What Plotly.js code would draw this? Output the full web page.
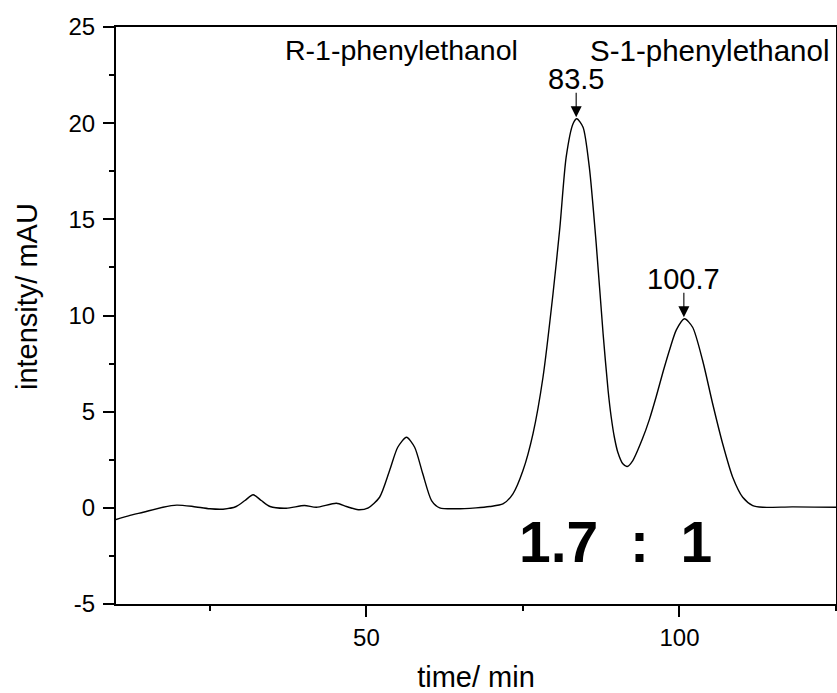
<!DOCTYPE html>
<html>
<head>
<meta charset="utf-8">
<script src="https://cdn.plot.ly/plotly-3.0.1.min.js"></script>
<style>
  html, body { margin: 0; padding: 0; background: #fff; }
  #chart { width: 837px; height: 693px; }
</style>
</head>
<body>
<div id="chart"></div>
<script>
// Chromatogram trace (time in min, intensity in mAU)
const time = [10, 12, 14.35, 17.5, 19.7, 22.3, 25, 27.1, 29.2, 30.6, 31.9, 33.2, 34.6, 37.2, 40.1, 42, 45.2, 46.8, 48.7, 50.3,
  52.1, 53.7, 55, 56.4, 57.7, 59, 60.4, 61.7, 64.4, 67.5, 69.7, 71.8, 73.4, 75, 76.6, 78.2, 79.8, 80.9, 81.9, 83,
  83.6, 84.6, 85.6, 86.7, 87.8, 88.6, 89.1, 89.6, 90.15, 90.95, 91.65, 92.55, 94.1, 95.2, 96.3, 97.4, 98.5, 99.5, 100.8, 102.1,
  103.7, 105.3, 106.9, 108.5, 110.1, 111.7, 113.3, 118, 125];
const intensity = [-0.61, -0.42, -0.23, 0.03, 0.14, 0.07, -0.05, -0.07, 0.07, 0.38, 0.68, 0.38, 0.07, -0.02, 0.12, 0.03, 0.24, 0.07, -0.1, 0,
  0.55, 1.94, 3.15, 3.67, 3.15, 1.77, 0.38, 0, -0.05, 0, 0.07, 0.2, 0.73, 1.94, 3.85, 6.79, 11.13, 14.59, 18.23, 19.97,
  20.23, 19.79, 17.71, 13.73, 9.05, 6.1, 4.71, 3.67, 2.89, 2.29, 2.15, 2.46, 3.6, 4.6, 5.8, 7.1, 8.3, 9.25, 9.83, 9.39,
  7.66, 5.41, 3.33, 1.59, 0.55, 0.12, 0.03, 0.05, 0.03];

// Labelled peaks
const peakTimes = [83.5, 100.7];
const peakHeights = [20.23, 9.83];
const peakNames = ['R-1-phenylethanol', 'S-1-phenylethanol'];
const ratioText = '1.7  :  1';

// Tick labels
const xTickVals = [50, 100];
const xTickText = ['50', '100'];
const yTickVals = [-5, 0, 5, 10, 15, 20, 25];
const yTickText = ['-5', '0', '5', '10', '15', '20', '25'];

const FONT = 'Liberation Sans, Arial, Helvetica, sans-serif';

const trace = {
  x: time,
  y: intensity,
  type: 'scatter',
  mode: 'lines',
  line: { color: '#000', width: 1.4, shape: 'spline', smoothing: 0.7 },
  hoverinfo: 'x+y'
};

const annotations = [
  { xref: 'paper', yref: 'paper', x: 0.3968, y: 0.9598, text: peakNames[0], showarrow: false,
    xanchor: 'center', yanchor: 'middle', font: { family: FONT, size: 28.5, color: '#000' } },
  { xref: 'paper', yref: 'paper', x: 0.8246, y: 0.9598, text: peakNames[1], showarrow: false,
    xanchor: 'center', yanchor: 'middle', font: { family: FONT, size: 29.5, color: '#000' } },
  { xref: 'paper', yref: 'paper', x: 0.694, y: 0.107, text: '<b>' + ratioText + '</b>', showarrow: false,
    xanchor: 'center', yanchor: 'middle', font: { family: FONT, size: 57, color: '#000' } },
  { xref: 'paper', yref: 'paper', x: -0.1236, y: 0.532, text: 'intensity/ mAU', showarrow: false,
    textangle: -90, xanchor: 'center', yanchor: 'middle', font: { family: FONT, size: 29, color: '#000' } }
];
peakTimes.forEach((t, i) => {
  // arrow only
  annotations.push({
    xref: 'x', yref: 'y', x: t, y: peakHeights[i], text: ' ',
    showarrow: true, arrowhead: 2, arrowsize: 2, arrowwidth: 1.1, arrowcolor: '#000',
    ax: 0, ay: -27, standoff: 1.5, borderpad: 0,
    font: { family: FONT, size: 1, color: '#000' }
  });
  // value label above the arrow
  annotations.push({
    xref: 'x', yref: 'y', x: t, y: peakHeights[i], text: t.toFixed(1),
    showarrow: false, xanchor: 'center', yanchor: 'middle', yshift: 39.5,
    font: { family: FONT, size: 29, color: '#000' }
  });
});

const axisCommon = {
  showline: true, linecolor: '#000', linewidth: 2, mirror: true,
  showgrid: false, zeroline: false,
  ticks: 'outside', ticklen: 11, tickwidth: 2, tickcolor: '#000',
  tickfont: { family: FONT, size: 24, color: '#000' },
  tickmode: 'array'
};

const layout = {
  width: 837, height: 693,
  margin: { l: 116, r: 1, t: 27, b: 89, pad: 0 },
  paper_bgcolor: '#fff', plot_bgcolor: '#fff',
  showlegend: false,
  font: { family: FONT, color: '#000' },
  xaxis: Object.assign({}, axisCommon, {
    range: [10, 125], tickvals: xTickVals, ticktext: xTickText,
    minor: { tickmode: 'linear', tick0: 0, dtick: 25, ticks: 'outside', ticklen: 5, tickwidth: 2, tickcolor: '#000', showgrid: false },
    title: { text: 'time/ min', font: { family: FONT, size: 29, color: '#000' }, standoff: 20 }
  }),
  yaxis: Object.assign({}, axisCommon, {
    range: [-5, 25], tickvals: yTickVals, ticktext: yTickText, ticklabelstandoff: 3,
    minor: { tickmode: 'linear', tick0: 0, dtick: 2.5, ticks: 'outside', ticklen: 5, tickwidth: 2, tickcolor: '#000', showgrid: false }
  }),
  annotations: annotations
};

Plotly.newPlot('chart', [trace], layout, { displayModeBar: false, staticPlot: true });
</script>
</body>
</html>
